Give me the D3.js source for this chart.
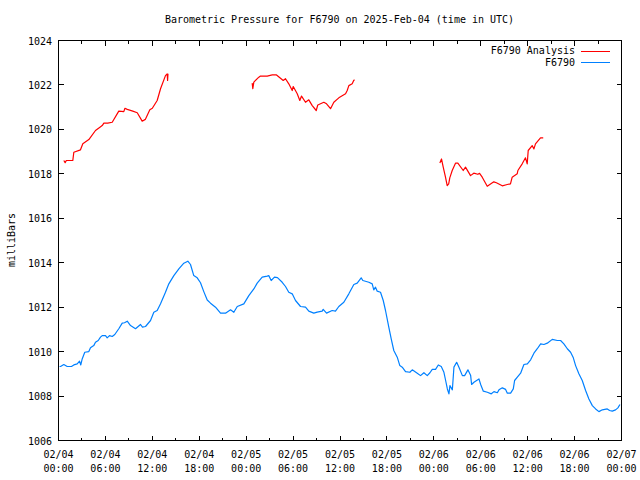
<!DOCTYPE html>
<html>
<head>
<meta charset="utf-8">
<script src="https://cdn.jsdelivr.net/npm/d3@7"></script>
<style>
  html, body { margin: 0; padding: 0; background: #fff; }
  text { font-family: "DejaVu Sans Mono", "Liberation Mono", monospace; font-size: 10px; fill: #000; }
</style>
</head>
<body>
<svg id="chart" width="640" height="480"></svg>
<script>
// ---- Data (hours since 2025-02-04 00:00 UTC) ----
const titleText = "Barometric Pressure for F6790 on 2025-Feb-04 (time in UTC)";
const yLabel = "milliBars";
const seriesNames = ["F6790 Analysis", "F6790"];
const yTicks = [1006, 1008, 1010, 1012, 1014, 1016, 1018, 1020, 1022, 1024];

// Analysis series: null separates segments
const analysisHours = [
  0.68, 0.85, 1.0, 1.83, 1.96, 2.81, 3.11, 3.88, 4.73, 5.3, 5.59, 5.8, 6.3, 6.87, 7.71, 8.35, 8.5, 8.79, 9.5, 10.07, 10.7, 11.1, 11.68, 12.0, 12.62, 13.05, 13.68, 13.9, 13.95, 14.0,
  null,
  24.77, 24.85, 24.98, 25.62, 25.83, 26.69, 27.33, 27.88, 28.39, 28.74, 29.03, 29.45, 29.89, 30.02, 30.53, 30.86, 31.08, 31.59, 32.01, 32.45, 32.96, 33.16, 33.93, 34.28, 34.79, 35.21, 35.85, 36.71, 36.92, 37.13, 37.56, 37.75, 37.86,
  null,
  48.77, 48.98, 49.2, 49.49, 49.71, 49.9, 50.04, 50.35, 50.77, 51.07, 51.76, 52.05, 52.69, 53.11, 53.62, 53.85, 54.19, 54.83, 55.67, 56.0, 56.75, 57.39, 57.8, 58.02, 58.66, 58.75, 59.3, 59.72, 59.94, 60.07, 60.58, 60.8, 61.0, 61.64, 61.99
];
const analysisValues = [
  1018.6, 1018.5, 1018.6, 1018.6, 1018.97, 1019.08, 1019.35, 1019.54, 1019.95, 1020.1, 1020.17, 1020.28, 1020.28, 1020.32, 1020.82, 1020.8, 1020.95, 1020.9, 1020.82, 1020.75, 1020.37, 1020.45, 1020.88, 1020.95, 1021.3, 1021.83, 1022.42, 1022.5, 1022.2, 1022.5,
  null,
  1022.08, 1021.83, 1022.13, 1022.35, 1022.4, 1022.4, 1022.45, 1022.45, 1022.3, 1022.2, 1022.28, 1022.05, 1021.75, 1021.93, 1021.6, 1021.3, 1021.5, 1021.22, 1021.33, 1021.07, 1020.85, 1021.1, 1021.22, 1021.15, 1020.93, 1021.22, 1021.42, 1021.6, 1021.75, 1021.97, 1022.05, 1022.2, 1022.23,
  null,
  1018.49, 1018.67, 1018.3, 1017.85, 1017.47, 1017.55, 1017.82, 1018.15, 1018.48, 1018.48, 1018.15, 1018.3, 1017.92, 1018.03, 1017.98, 1018.02, 1017.85, 1017.44, 1017.64, 1017.6, 1017.46, 1017.52, 1017.55, 1017.85, 1018.0, 1018.15, 1018.45, 1018.72, 1018.45, 1019.05, 1019.27, 1019.12, 1019.35, 1019.62, 1019.62
];

const stationHours = [
  0.13, 0.26, 0.68, 1.11, 1.66, 1.96, 2.39, 2.69, 2.85, 3.03, 3.36, 3.88, 4.09, 4.51, 4.73, 5.08, 5.37, 5.59, 6.01, 6.23, 6.52, 6.87, 7.2, 7.71, 8.15, 8.44, 8.79, 9.21, 9.85, 10.49, 10.74, 11.13, 11.77, 12.19, 12.62, 13.05, 13.68, 14.11, 14.75, 15.39, 16.03, 16.54, 16.88, 17.3, 17.74, 18.16, 18.58, 19.02, 19.44, 20.08, 20.72, 21.36, 22.0, 22.42, 22.86, 23.7, 24.34, 24.98, 25.41, 26.05, 26.69, 26.89, 27.2, 27.62, 28.0, 28.61, 29.03, 29.45, 29.89, 30.31, 30.95, 31.59, 32.01, 32.65, 33.08, 33.72, 33.85, 34.28, 35.0, 35.42, 35.85, 36.49, 37.13, 37.77, 38.2, 38.71, 38.92, 39.69, 40.12, 40.32, 40.54, 40.76, 41.18, 41.53, 41.82, 42.24, 42.55, 42.88, 43.32, 43.65, 43.96, 44.38, 44.93, 45.24, 45.88, 46.3, 46.73, 47.16, 47.5, 47.8, 48.22, 48.57, 48.95, 49.29, 49.51, 49.73, 49.93, 50.06, 50.37, 50.57, 50.92, 51.21, 51.65, 51.94, 52.36, 52.71, 52.83, 53.13, 53.77, 53.99, 54.33, 54.84, 55.35, 55.69, 56.12, 56.33, 56.76, 57.18, 57.4, 57.82, 58.16, 58.33, 58.68, 59.1, 59.52, 59.96, 60.38, 60.8, 61.23, 61.66, 62.08, 62.51, 63.15, 63.79, 64.21, 64.63, 65.07, 65.49, 65.84, 66.13, 66.55, 66.98, 67.41, 67.83, 68.27, 68.69, 69.11, 69.55, 70.18, 70.48, 70.82, 71.24, 71.54, 71.8
];
const stationValues = [
  1009.33, 1009.33, 1009.42, 1009.33, 1009.33, 1009.4, 1009.45, 1009.57, 1009.4, 1009.67, 1009.97, 1010.0, 1010.17, 1010.27, 1010.42, 1010.5, 1010.65, 1010.72, 1010.72, 1010.62, 1010.72, 1010.68, 1010.77, 1011.03, 1011.28, 1011.3, 1011.37, 1011.17, 1011.03, 1011.22, 1011.1, 1011.13, 1011.4, 1011.77, 1011.85, 1012.15, 1012.67, 1013.05, 1013.42, 1013.72, 1013.98, 1014.07, 1013.92, 1013.42, 1013.32, 1013.1, 1012.7, 1012.32, 1012.18, 1012.0, 1011.73, 1011.73, 1011.88, 1011.77, 1012.03, 1012.15, 1012.52, 1012.82, 1013.08, 1013.35, 1013.4, 1013.42, 1013.2, 1013.35, 1013.33, 1013.12, 1012.93, 1012.67, 1012.6, 1012.3, 1012.03, 1012.0, 1011.82, 1011.73, 1011.78, 1011.82, 1011.9, 1011.73, 1011.85, 1011.82, 1012.03, 1012.22, 1012.6, 1013.02, 1013.08, 1013.32, 1013.2, 1013.12, 1013.05, 1012.78, 1012.9, 1012.72, 1012.67, 1012.3, 1011.85, 1011.1, 1010.57, 1010.05, 1009.75, 1009.37, 1009.3, 1009.1, 1009.07, 1009.18, 1009.03, 1008.92, 1009.05, 1008.92, 1009.05, 1009.2, 1009.2, 1009.4, 1009.33, 1009.07, 1008.7, 1008.32, 1008.1, 1008.47, 1008.28, 1009.3, 1009.52, 1009.3, 1008.92, 1008.92, 1009.18, 1008.92, 1008.52, 1008.62, 1008.77, 1008.52, 1008.22, 1008.17, 1008.1, 1008.2, 1008.15, 1008.28, 1008.37, 1008.3, 1008.13, 1008.13, 1008.32, 1008.7, 1008.85, 1009.03, 1009.42, 1009.45, 1009.63, 1009.93, 1010.13, 1010.35, 1010.32, 1010.38, 1010.55, 1010.5, 1010.5, 1010.35, 1010.13, 1009.97, 1009.72, 1009.37, 1009.0, 1008.7, 1008.25, 1007.87, 1007.57, 1007.42, 1007.3, 1007.38, 1007.42, 1007.35, 1007.32, 1007.38, 1007.47, 1007.62
];

const colors = ["#ff0000", "#0080ff"];

// ---- Drawing ----
const t0 = Date.UTC(2025, 1, 4, 0, 0);
const t1 = Date.UTC(2025, 1, 7, 0, 0);
const toDate = h => new Date(t0 + h * 3600 * 1000);

const svg = d3.select("#chart");
const L = 58.5, R = 621.5, T = 40.5, B = 440.5;

const x = d3.scaleUtc().domain([new Date(t0), new Date(t1)]).range([L, R]);
const y = d3.scaleLinear().domain([1006, 1024]).range([B, T]);

// title
svg.append("text").attr("x", 339.5).attr("y", 23).attr("text-anchor", "middle").text(titleText);

// y label
svg.append("text").attr("transform", "translate(14.5,240) rotate(-90)")
  .attr("text-anchor", "middle").text(yLabel);

// ticks
const tickG = svg.append("g").attr("stroke", "#000").attr("stroke-width", 1).attr("shape-rendering", "crispEdges");
const xTicks = d3.utcHour.every(3).range(new Date(t0), new Date(t1 + 1));
xTicks.forEach(d => {
  const major = d.getUTCHours() % 6 === 0;
  const len = major ? 5 : 3;
  const xx = Math.round(x(d) - 0.5) + 0.5;
  tickG.append("line").attr("x1", xx).attr("x2", xx).attr("y1", B).attr("y2", B - len);
  tickG.append("line").attr("x1", xx).attr("x2", xx).attr("y1", T).attr("y2", T + len);
});
yTicks.forEach(v => {
  const yy = Math.round(y(v) - 0.5) + 0.5;
  tickG.append("line").attr("x1", L).attr("x2", L + 5).attr("y1", yy).attr("y2", yy);
  tickG.append("line").attr("x1", R).attr("x2", R - 5).attr("y1", yy).attr("y2", yy);
});

// y tick labels
svg.append("g").selectAll("text").data(yTicks).join("text")
  .attr("x", 52).attr("y", d => y(d) + 4).attr("text-anchor", "end").text(d => d);

// x tick labels
const majorX = d3.utcHour.every(6).range(new Date(t0), new Date(t1 + 1));
const fmtDate = d3.utcFormat("%m/%d"), fmtTime = d3.utcFormat("%H:%M");
const xl = svg.append("g").selectAll("text").data(majorX).join("text")
  .attr("text-anchor", "middle");
xl.append("tspan").attr("x", d => x(d)).attr("y", 457.5).text(fmtDate);
xl.append("tspan").attr("x", d => x(d)).attr("y", 471.5).text(fmtTime);

// lines
const line = d3.line()
  .defined(d => d[1] != null)
  .x(d => x(toDate(d[0])))
  .y(d => y(d[1]));

const analysisData = analysisHours.map((h, i) => [h, analysisValues[i]]);
const stationData = stationHours.map((h, i) => [h, stationValues[i]]);

svg.append("path").datum(analysisData).attr("d", line)
  .attr("fill", "none").attr("stroke", colors[0]).attr("stroke-width", 1.2).attr("stroke-linejoin", "round");
svg.append("path").datum(stationData).attr("d", line)
  .attr("fill", "none").attr("stroke", colors[1]).attr("stroke-width", 1.2).attr("stroke-linejoin", "round");

// legend
const legend = svg.append("g");
seriesNames.forEach((name, i) => {
  const ly = 50.5 + i * 11.7;
  legend.append("text").attr("x", 575).attr("y", ly + 3.8).attr("text-anchor", "end").text(name);
  legend.append("line").attr("x1", 581).attr("x2", 610).attr("y1", Math.round(ly) + 0.5).attr("y2", Math.round(ly) + 0.5)
    .attr("stroke", colors[i]).attr("stroke-width", 1).attr("shape-rendering", "crispEdges");
});

// border
svg.append("rect").attr("x", L).attr("y", T).attr("width", R - L).attr("height", B - T)
  .attr("fill", "none").attr("stroke", "#000").attr("stroke-width", 1).attr("shape-rendering", "crispEdges");
</script>
</body>
</html>
